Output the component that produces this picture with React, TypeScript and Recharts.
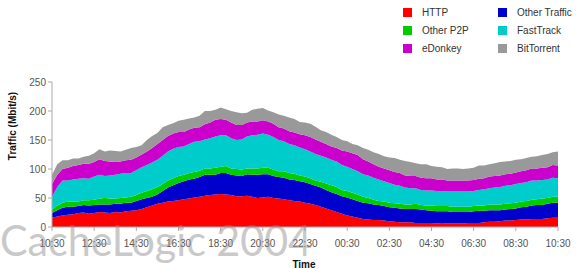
import { AreaChart, Area, XAxis, YAxis, Legend } from "recharts";

// 15-minute samples from 10:30 to 10:30 next day (97 points), Mbit/s per protocol
const http = [
  16, 18, 20, 21, 22, 24, 25, 23,
  24, 26, 25, 24, 26, 25, 27, 28,
  29, 31, 34, 37, 40, 42, 44, 45,
  46, 48, 49, 51, 52, 54, 55, 56,
  57, 56, 55, 53, 53, 54, 52, 50,
  51, 52, 50, 49, 48, 46, 45, 44,
  42, 40, 38, 35, 32, 29, 26, 23,
  20, 18, 16, 14, 13, 12, 12, 11,
  10, 9, 8, 8, 8, 7, 7, 7,
  7, 6, 7, 6, 6, 6, 6, 7,
  7, 7, 8, 9, 9, 10, 11, 11,
  12, 13, 13, 14, 14, 14, 15, 16,
  16,
];
const otherTraffic = [
  8, 11, 13, 14, 13, 12, 13, 14,
  14, 13, 14, 15, 14, 15, 15, 14,
  16, 17, 16, 15, 16, 20, 24, 27,
  30, 31, 33, 32, 34, 36, 35, 34,
  36, 37, 35, 36, 35, 37, 38, 40,
  40, 39, 38, 37, 37, 36, 36, 35,
  35, 34, 33, 33, 32, 31, 31, 30,
  31, 30, 29, 28, 28, 27, 26, 25,
  24, 24, 24, 23, 23, 24, 23, 22,
  21, 21, 20, 21, 20, 20, 20, 19,
  20, 21, 20, 20, 20, 19, 19, 20,
  20, 21, 22, 23, 24, 24, 25, 26,
  26,
];
const otherP2P = [
  6, 8, 9, 9, 9, 8, 8, 9,
  9, 10, 11, 10, 9, 10, 9, 10,
  10, 11, 12, 13, 13, 12, 12, 12,
  12, 11, 11, 12, 11, 11, 11, 12,
  11, 12, 11, 11, 11, 10, 11, 11,
  11, 11, 11, 10, 11, 11, 11, 10,
  10, 10, 9, 10, 11, 12, 12, 11,
  11, 11, 11, 10, 9, 8, 7, 8,
  8, 8, 8, 8, 8, 9, 8, 8,
  9, 9, 9, 9, 9, 9, 9, 9,
  9, 9, 9, 10, 10, 10, 10, 10,
  10, 10, 10, 10, 10, 11, 10, 10,
  10,
];
const fastTrack = [
  22, 32, 38, 36, 38, 39, 38, 37,
  40, 41, 38, 40, 41, 42, 42, 41,
  43, 44, 45, 46, 47, 49, 50, 51,
  50, 49, 50, 52, 51, 50, 52, 54,
  54, 53, 52, 50, 52, 55, 57, 58,
  59, 57, 56, 54, 52, 50, 49, 48,
  47, 46, 46, 45, 45, 44, 44, 43,
  42, 41, 40, 39, 39, 38, 37, 35,
  34, 32, 31, 29, 28, 27, 26, 26,
  26, 26, 26, 25, 26, 26, 26, 26,
  26, 27, 28, 28, 29, 30, 31, 31,
  32, 32, 32, 33, 32, 32, 32, 33,
  32,
];
const eDonkey = [
  22, 21, 20, 22, 23, 24, 25, 26,
  25, 27, 26, 24, 22, 21, 22, 23,
  22, 22, 23, 25, 27, 27, 27, 26,
  26, 25, 25, 24, 24, 26, 27, 29,
  28, 27, 27, 26, 25, 24, 24, 23,
  23, 23, 23, 22, 22, 22, 22, 23,
  24, 25, 25, 24, 23, 23, 23, 25,
  26, 27, 28, 26, 24, 23, 22, 22,
  22, 22, 22, 21, 21, 21, 21, 21,
  21, 20, 20, 19, 19, 19, 19, 19,
  19, 19, 19, 20, 20, 20, 20, 20,
  20, 20, 21, 21, 21, 21, 21, 22,
  22,
];
const bitTorrent = [
  16, 18, 15, 13, 13, 11, 12, 14,
  15, 17, 16, 19, 19, 17, 18, 20,
  18, 16, 20, 21, 19, 22, 19, 18,
  19, 21, 19, 18, 20, 23, 20, 17,
  20, 18, 20, 22, 20, 17, 20, 22,
  21, 19, 20, 22, 22, 24, 23, 21,
  22, 23, 22, 20, 21, 20, 19, 18,
  18, 16, 17, 19, 20, 21, 22, 21,
  22, 24, 23, 25, 24, 22, 23, 24,
  21, 22, 21, 20, 21, 21, 20, 21,
  21, 23, 22, 21, 22, 23, 22, 22,
  22, 21, 21, 20, 21, 22, 23, 22,
  24,
];

const tickLabels = [
  "10:30", "12:30", "14:30", "16:30", "18:30", "20:30", "22:30",
  "00:30", "02:30", "04:30", "06:30", "08:30", "10:30",
];
const yTicks = [0, 50, 100, 150, 200, 250];

const series = [
  { key: "http", name: "HTTP", color: "#ff0000" },
  { key: "otherTraffic", name: "Other Traffic", color: "#0000cc" },
  { key: "otherP2P", name: "Other P2P", color: "#00cc00" },
  { key: "fastTrack", name: "FastTrack", color: "#00cccc" },
  { key: "eDonkey", name: "eDonkey", color: "#cc00cc" },
  { key: "bitTorrent", name: "BitTorrent", color: "#999999" },
];

// legend is laid out in 2 columns, row by row
const legendOrder = ["http", "otherTraffic", "otherP2P", "fastTrack", "eDonkey", "bitTorrent"];

const data = http.map((v, i) => ({
  t: i,
  http: v,
  otherTraffic: otherTraffic[i],
  otherP2P: otherP2P[i],
  fastTrack: fastTrack[i],
  eDonkey: eDonkey[i],
  bitTorrent: bitTorrent[i],
}));

const font = "'Liberation Sans', Arial, sans-serif";

function LegendBox() {
  return (
    <div
      style={{
        display: "grid",
        gridTemplateColumns: "95px 80px",
        rowGap: 6,
        fontFamily: font,
        fontSize: 10,
        color: "#333",
      }}
    >
      {legendOrder.map((k) => {
        const s = series.find((x) => x.key === k)!;
        return (
          <div key={k} style={{ display: "flex", alignItems: "center", height: 12 }}>
            <span style={{ width: 9, height: 9, background: s.color, marginRight: 10 }} />
            {s.name}
          </div>
        );
      })}
    </div>
  );
}

export default function App() {
  return (
    <div style={{ position: "absolute", left: 0, top: 0, width: 579, height: 269, background: "#fff" }}>
      <AreaChart width={579} height={269} data={data} margin={{ top: 34, right: 21, bottom: 12, left: 14 }}>
        <XAxis
          type="number"
          dataKey="t"
          domain={[0, 96]}
          ticks={tickLabels.map((_, i) => i * 8)}
          tickFormatter={(v) => tickLabels[v / 8]}
          height={30}
          tick={{ fontSize: 10, fill: "#555", fontFamily: font }}
          tickSize={4}
          tickMargin={9}
          stroke="#aaa"
        />
        <YAxis
          domain={[0, 250]}
          ticks={yTicks}
          width={38}
          tick={{ fontSize: 10, fill: "#555", fontFamily: font }}
          tickSize={4}
          stroke="#aaa"
        />
        <Legend
          verticalAlign="top"
          wrapperStyle={{ position: "absolute", left: 403, top: 6, width: 176 }}
          content={() => <LegendBox />}
        />
        {series.map((s) => (
          <Area
            key={s.key}
            type="linear"
            dataKey={s.key}
            name={s.name}
            stackId="1"
            stroke="none"
            fill={s.color}
            fillOpacity={1}
            isAnimationActive={false}
          />
        ))}
      </AreaChart>
      <svg
        width={579}
        height={269}
        style={{ position: "absolute", left: 0, top: 0, pointerEvents: "none" }}
      >
        <text
          x={13}
          y={126}
          transform="rotate(-90 13 126)"
          textAnchor="middle"
          dominantBaseline="middle"
          fontFamily={font}
          fontSize={10}
          fontWeight="bold"
          fill="#111"
        >
          Traffic (Mbit/s)
        </text>
        <text x={304} y={268} textAnchor="middle" fontFamily={font} fontSize={10} fontWeight="bold" fill="#111">
          Time
        </text>
        <text
          x={0}
          y={256}
          fontFamily="Lato, 'Open Sans', sans-serif"
          fontSize={43}
          textLength={312}
          lengthAdjust="spacingAndGlyphs"
          fill="#8a8a8a"
          opacity={0.45}
        >
          CacheLogic 2004
        </text>
      </svg>
    </div>
  );
}
